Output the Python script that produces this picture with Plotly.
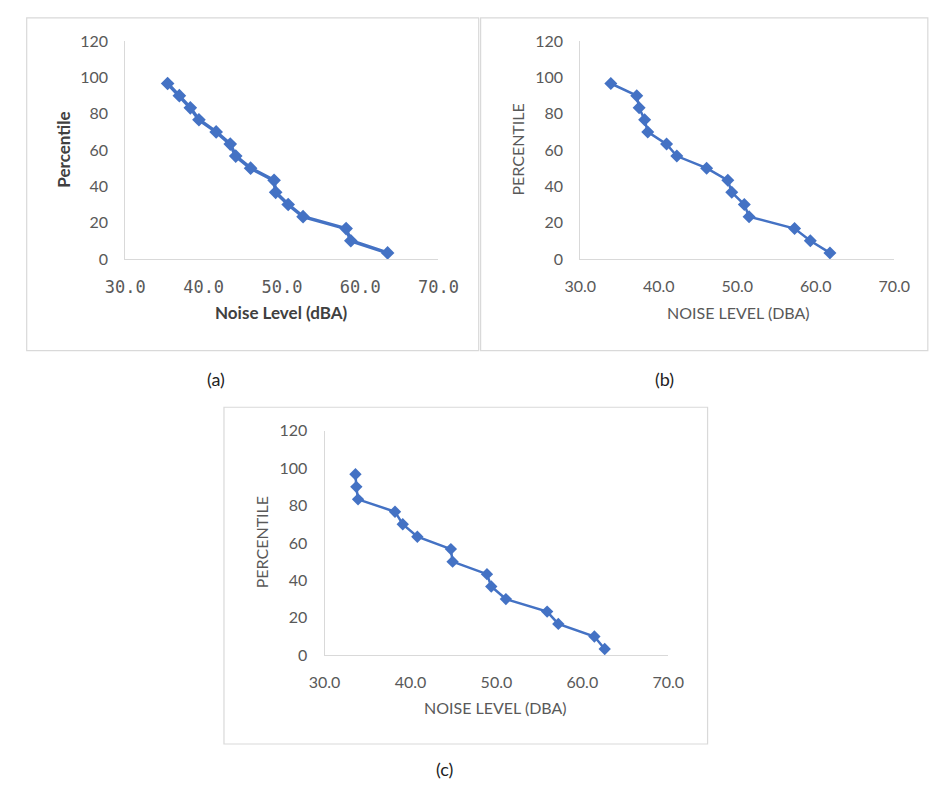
import plotly.graph_objects as go

W, H = 944, 794

percentile = [96.7, 90.0, 83.3, 76.7, 70.0, 63.3, 56.7, 50.0, 43.3, 36.7, 30.0, 23.3, 16.7, 10.0, 3.3]
noise_a = [35.4, 36.9, 38.3, 39.4, 41.6, 43.4, 44.1, 46.0, 49.0, 49.2, 50.8, 52.7, 58.2, 58.8, 63.5]
noise_b = [33.9, 37.2, 37.5, 38.2, 38.6, 41.0, 42.3, 46.1, 48.8, 49.3, 50.9, 51.5, 57.3, 59.3, 61.8]
noise_c = [33.6, 33.7, 33.9, 38.2, 39.1, 40.8, 44.7, 44.9, 48.9, 49.4, 51.1, 55.9, 57.2, 61.4, 62.6]

x_ticks = [30.0, 40.0, 50.0, 60.0, 70.0]
y_ticks = [0, 20, 40, 60, 80, 100, 120]

BLUE = "#4472C4"
GRID = "#d9d9d9"
TXT = "#595959"
FONT = "Lato"

def px(x):
    return x / W

def py(y):
    return 1 - y / H

# plot-area boxes in pixels: (left, right, top, bottom)
areas = {
    "a": (110, 437, 32, 255),
    "b": (585, 913, 32, 255),
    "c": (318, 677, 431, 661),
}
line_w = {"a": 3.5, "b": 2.5, "c": 2.5}
mark_s = {"a": 10.5, "b": 10, "c": 9.5}

fig = go.Figure()

series = [("a", noise_a, "x", "y"), ("b", noise_b, "x2", "y2"), ("c", noise_c, "x3", "y3")]
for key, xs, xa, ya in series:
    fig.add_trace(go.Scatter(
        x=xs, y=percentile, xaxis=xa, yaxis=ya, mode="lines+markers",
        line=dict(color=BLUE, width=line_w[key]),
        marker=dict(symbol="diamond", size=mark_s[key], color=BLUE),
        showlegend=False, hoverinfo="x+y",
    ))

layout = dict(
    width=W, height=H, margin=dict(l=0, r=0, t=0, b=0),
    paper_bgcolor="white", plot_bgcolor="white", showlegend=False,
)

for i, key in enumerate(["a", "b", "c"]):
    l, r, t, b = areas[key]
    sx = "xaxis" if i == 0 else f"xaxis{i+1}"
    sy = "yaxis" if i == 0 else f"yaxis{i+1}"
    yname = "y" if i == 0 else f"y{i+1}"
    xname = "x" if i == 0 else f"x{i+1}"
    if key == "a":
        xfont = dict(family="DejaVu Sans Mono", size=17, color=TXT)
    else:
        xfont = dict(family=FONT, size=16, color=TXT)
    layout[sx] = dict(
        domain=[px(l), px(r)], range=[30, 70], anchor=yname,
        tickvals=x_ticks, tickformat=".1f", tickfont=xfont,
        showgrid=False, zeroline=False, showline=True, linecolor=GRID, linewidth=1,
        ticks="", ticklabelstandoff=13, fixedrange=True,
    )
    layout[sy] = dict(
        domain=[py(b), py(t)], range=[0, 120], anchor=xname,
        tickvals=y_ticks, tickfont=dict(family=FONT, size=16, color=TXT),
        showgrid=False, zeroline=False, showline=True, linecolor=GRID, linewidth=1,
        ticks="", ticklabelstandoff=13, fixedrange=True,
    )

fig.update_layout(**layout)

# panel frames (panel b runs off the right edge, like the reference)
frames = [(7, 479, 8, 349), (481, 948, 8, 349), (213, 718, 407, 752)]
for (x0, x1, y0, y1) in frames:
    fig.add_shape(type="rect", xref="paper", yref="paper",
                  x0=px(x0), x1=px(x1), y0=py(y1), y1=py(y0),
                  line=dict(color=GRID, width=1.2), fillcolor="rgba(0,0,0,0)", layer="below")

ann = []
# axis titles
ann.append(dict(text="<b>Percentile</b>", x=px(46), y=py(143), textangle=-90,
                font=dict(family=FONT, size=17, color="#404040")))
ann.append(dict(text="<b>Noise Level (dBA)</b>", x=px(273), y=py(310),
                font=dict(family=FONT, size=17, color="#404040")))
ann.append(dict(text="PERCENTILE", x=px(520), y=py(143), textangle=-90,
                font=dict(family=FONT, size=16, color=TXT)))
ann.append(dict(text="NOISE LEVEL (DBA)", x=px(750), y=py(310),
                font=dict(family=FONT, size=16, color=TXT)))
ann.append(dict(text="PERCENTILE", x=px(253), y=py(545), textangle=-90,
                font=dict(family=FONT, size=16, color=TXT)))
ann.append(dict(text="NOISE LEVEL (DBA)", x=px(497), y=py(715),
                font=dict(family=FONT, size=16, color=TXT)))
# captions
for txt, cx, cy in [("(a)", 205, 378), ("(b)", 673, 378), ("(c)", 443, 778)]:
    ann.append(dict(text=txt, x=px(cx), y=py(cy), font=dict(family=FONT, size=18, color="#222222")))

for a in ann:
    a.update(xref="paper", yref="paper", showarrow=False, xanchor="center", yanchor="middle")
fig.update_layout(annotations=ann)

fig.write_html("out.html")
